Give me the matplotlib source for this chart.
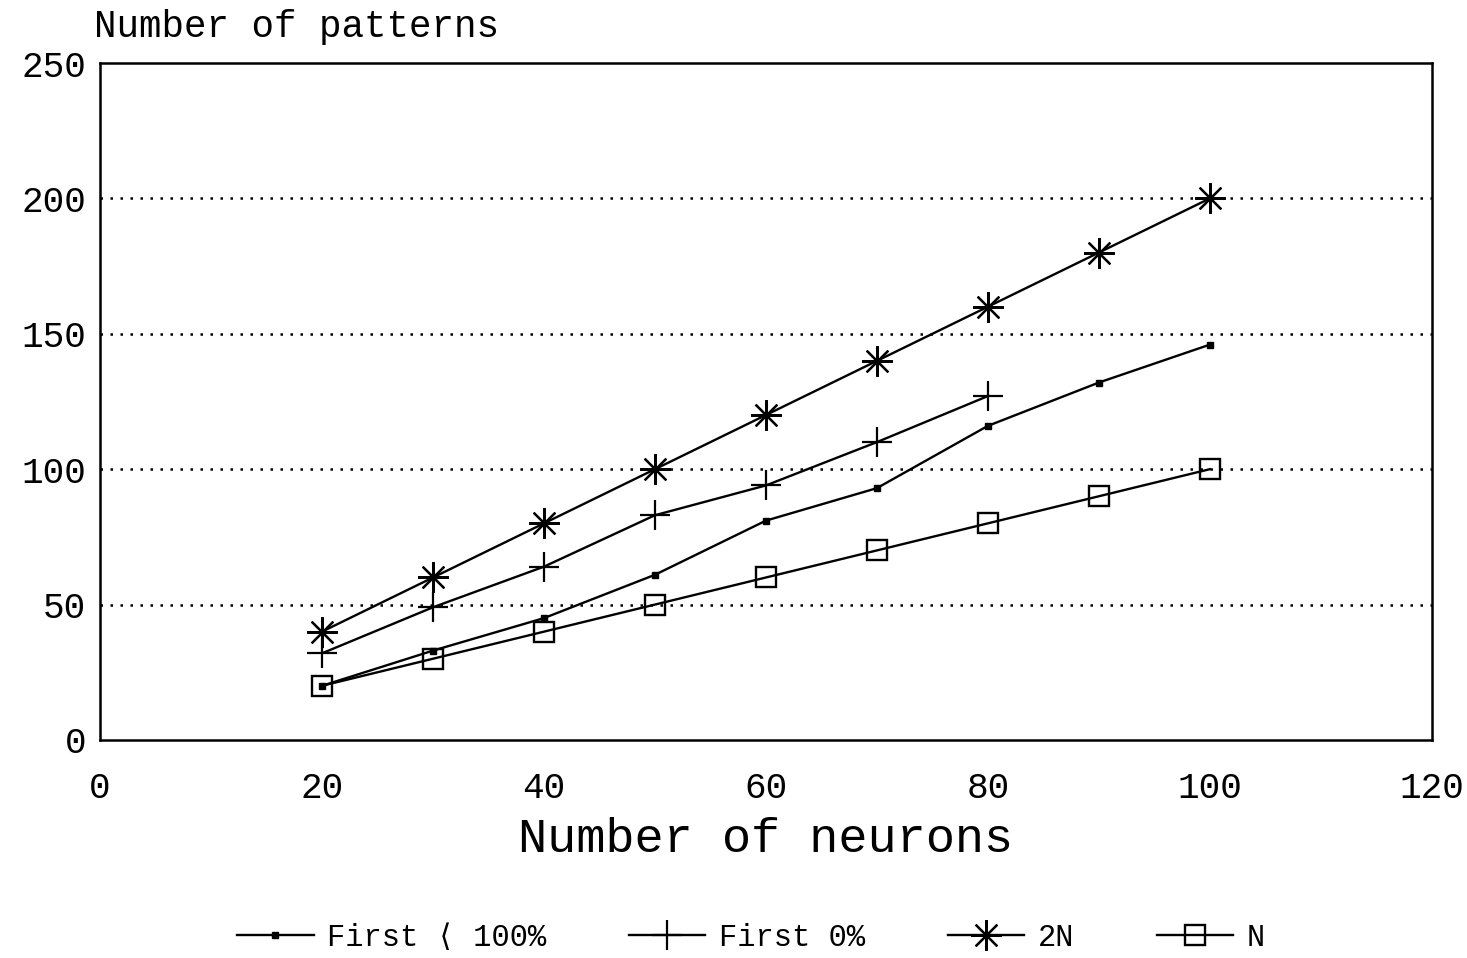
import matplotlib
matplotlib.use('Agg')
import matplotlib.pyplot as plt

plt.rcParams['font.family'] = ['Liberation Mono', 'DejaVu Sans Mono']

# neurons on the x axis
neurons = [20, 30, 40, 50, 60, 70, 80, 90, 100]
neurons_first0 = [20, 30, 40, 50, 60, 70, 80]

# patterns per curve
first_lt100 = [20, 33, 45, 61, 81, 93, 116, 132, 146]
first_0 = [32, 49, 64, 83, 94, 110, 127]
two_n = [40, 60, 80, 100, 120, 140, 160, 180, 200]
n_line = [20, 30, 40, 50, 60, 70, 80, 90, 100]

labels = ['First \u27e8 100%', 'First 0%', '2N', 'N']

fig = plt.figure(figsize=(14.67, 9.58), dpi=100)
ax = fig.add_axes([0.0682, 0.2276, 0.9078, 0.7066])

lw = 1.7
ax.plot(neurons, first_lt100, color='black', lw=lw, marker='s', ms=5,
        mfc='black', label=labels[0])
ax.plot(neurons_first0, first_0, color='black', lw=lw, marker='+', ms=22,
        mew=1.6, label=labels[1])
ax.plot(neurons, two_n, color='black', lw=lw, marker=(8, 2, 0), ms=22,
        mew=1.6, label=labels[2])
ax.plot(neurons, n_line, color='black', lw=lw, marker='s', ms=14,
        mfc='none', mew=1.7, label=labels[3])

ax.set_xlim(0, 120)
ax.set_ylim(0, 250)
ax.set_xticks(range(0, 121, 20))
ax.set_yticks(range(0, 251, 50))
for y in [50, 100, 150, 200]:
    ax.axhline(y, color='black', lw=1.8, ls=(0, (1, 3)), zorder=0)

ax.tick_params(length=0, labelsize=26)
ax.tick_params(axis='x', pad=22)
ax.tick_params(axis='y', pad=10)
for s in ax.spines.values():
    s.set_linewidth(1.8)

ax.set_xlabel('Number of neurons', fontsize=35, labelpad=8)
fig.text(0.064, 0.953, 'Number of patterns', fontsize=27, ha='left', va='bottom')

fig.legend(loc='center', bbox_to_anchor=(0.512, 0.021), ncol=4, frameon=False,
           handlelength=2.5, columnspacing=2.7, handletextpad=0.45,
           prop={'family': ['Liberation Mono', 'DejaVu Sans Mono'], 'size': 22})

fig.savefig('out.png', dpi=100)
